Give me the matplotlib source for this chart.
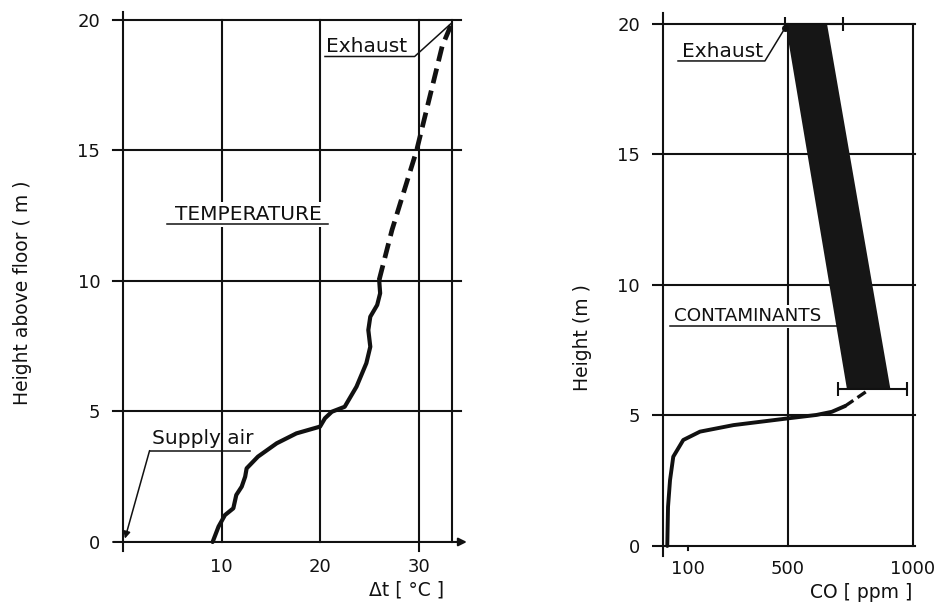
import matplotlib
matplotlib.use("Agg")
import matplotlib.pyplot as plt

# ---------------- data ----------------
# Temperature profile (solid, measured)
temp_delta = [9.1, 9.7, 10.35, 11.2, 11.5, 12.05, 12.4, 12.55, 13.7, 15.6, 17.6, 20.0,
              20.5, 21.2, 22.5, 23.7, 24.7, 25.1, 24.9, 25.1, 25.8, 26.1, 26.0]
temp_height = [0.0, 0.59, 1.03, 1.29, 1.8, 2.12, 2.5, 2.82, 3.27, 3.78, 4.16, 4.42,
               4.74, 4.99, 5.18, 5.95, 6.85, 7.48, 8.12, 8.63, 9.08, 9.53, 10.04]
# Temperature profile (dashed, extrapolated)
temp_dash_delta = [26.0, 27.3, 29.8, 32.4, 33.4]
temp_dash_height = [10.04, 11.95, 15.0, 19.0, 19.9]

# CO profile (solid)
co_ppm = [17, 20, 28, 41, 81, 148, 282, 502, 615, 676, 729]
co_height = [0.0, 1.5, 2.52, 3.42, 4.06, 4.38, 4.63, 4.89, 5.02, 5.14, 5.36]
# CO profile (dashed)
co_dash_ppm = [729, 749, 822]
co_dash_height = [5.36, 5.49, 5.97]

# Contaminant band
band_height = [6, 20]
band_low = [735, 489]
band_high = [909, 655]
# Range bars
err_height = [20, 6]
err_low = [489, 702]
err_high = [722, 978]

left_xticks = [10, 20, 30]
left_vlines = [0, 10, 20, 30, 33.4]
yticks = [0, 5, 10, 15, 20]
right_xticks = [100, 500, 1000]
right_vlines = [0, 500, 1000]

INK = "#111111"
plt.rcParams['font.family'] = ['DejaVu Sans']

fig = plt.figure(figsize=(9.4, 6.05), dpi=100)
fig.patch.set_facecolor("white")

# ---------------- left panel ----------------
axL = fig.add_axes([0.1151, 0.0826, 0.3826, 0.9103])
axL.set_xlim(-1.5, 35)
axL.set_ylim(-0.5, 20.6)
for s in axL.spines.values():
    s.set_visible(False)

for x in left_vlines:
    top = 20.3 if x == 0 else 20
    bot = -0.35 if x in (0, 30) else 0
    axL.plot([x, x], [bot, top], color=INK, lw=1.5, zorder=1)
for y in yticks[1:]:
    axL.plot([-1, 34.3], [y, y], color=INK, lw=1.5, zorder=1)
axL.annotate('', xy=(34.9, 0), xytext=(-1, 0),
             arrowprops=dict(arrowstyle='-|>', lw=1.5, color=INK,
                             mutation_scale=12, shrinkA=0, shrinkB=0), zorder=1)

axL.plot(temp_delta, temp_height, color=INK, lw=3.0, solid_capstyle='round',
         solid_joinstyle='round', zorder=4)
axL.plot(temp_dash_delta, temp_dash_height, color=INK, lw=3.4,
         dashes=(3.2, 1.6), zorder=4)

axL.set_xticks(left_xticks)
axL.set_xticklabels([str(t) for t in left_xticks])
axL.set_yticks(yticks)
axL.set_yticklabels([str(t) for t in yticks])
axL.tick_params(axis='both', length=0, labelsize=13, colors=INK)
axL.tick_params(axis='x', pad=2)
axL.tick_params(axis='y', pad=5.8)

axL.set_ylabel("Height above floor ( m )", fontsize=13.5, color=INK)
axL.yaxis.set_label_coords(-0.237, 0.476)
axL.yaxis.label.set_va('center')
axL.set_xlabel("Δt [ °C ]", fontsize=13.5, color=INK)
axL.xaxis.set_label_coords(0.831, -0.0635)
axL.xaxis.label.set_va('center')

# annotations left
axL.text(20.6, 18.78, "Exhaust", fontsize=14.5, color=INK, ha='left', va='baseline', zorder=5)
axL.plot([20.5, 29.6, 33.4], [18.6, 18.6, 19.9], color=INK, lw=1.1, zorder=5)

axL.text(5.3, 12.33, "TEMPERATURE", fontsize=14.5, color=INK, ha='left', va='baseline',
         zorder=5, bbox=dict(facecolor='white', edgecolor='none', pad=2))
axL.plot([4.5, 20.8], [12.2, 12.2], color=INK, lw=1.1, zorder=5)

axL.text(2.9, 3.77, "Supply air", fontsize=14.5, color=INK, ha='left', va='baseline', zorder=5)
axL.plot([12.9, 2.7], [3.5, 3.5], color=INK, lw=1.1, zorder=5)
axL.annotate('', xy=(0.2, 0.13), xytext=(2.7, 3.5),
             arrowprops=dict(arrowstyle='-|>', lw=1.1, color=INK, mutation_scale=10,
                             shrinkA=0, shrinkB=0), zorder=5)

# ---------------- right panel ----------------
axR = fig.add_axes([0.6934, 0.0760, 0.2909, 0.9104])
axR.set_xlim(-45, 1050)
axR.set_ylim(-0.5, 20.6)
for s in axR.spines.values():
    s.set_visible(False)

for x in right_vlines:
    top = 20.4 if x == 0 else 20
    bot = -0.37 if x == 0 else 0
    axR.plot([x, x], [bot, top], color=INK, lw=1.5, zorder=1)
for y in yticks:
    axR.plot([-40, 1010], [y, y], color=INK, lw=1.5, zorder=1)
axR.plot([100, 100], [0, -0.15], color=INK, lw=1.5, zorder=1)

axR.fill_betweenx(band_height, band_low, band_high, color="#161616", lw=0, zorder=3)
err_mid = [(a + b) / 2 for a, b in zip(err_low, err_high)]
err_half = [(b - a) / 2 for a, b in zip(err_low, err_high)]
axR.errorbar(err_mid, err_height, xerr=err_half, fmt='none', ecolor=INK,
             elinewidth=1.5, capsize=5, capthick=1.5, zorder=4)

axR.plot(co_ppm, co_height, color=INK, lw=2.8, solid_capstyle='round',
         solid_joinstyle='round', zorder=4)
axR.plot(co_dash_ppm, co_dash_height, color=INK, lw=2.4, dashes=(3, 1.5), zorder=4)

axR.set_xticks(right_xticks)
axR.set_xticklabels([str(t) for t in right_xticks])
axR.set_yticks(yticks)
axR.set_yticklabels([str(t) for t in yticks])
axR.tick_params(axis='both', length=0, labelsize=13, colors=INK)
axR.tick_params(axis='x', pad=0.5)
axR.tick_params(axis='y', pad=8.5)

axR.set_ylabel("Height (m )", fontsize=13.5, color=INK)
axR.yaxis.set_label_coords(-0.252, 0.402)
axR.yaxis.label.set_va('center')
axR.set_xlabel("CO [ ppm ]", fontsize=13.5, color=INK)
axR.xaxis.set_label_coords(0.765, -0.060)
axR.xaxis.label.set_va('center')

axR.text(75, 18.75, "Exhaust", fontsize=14.5, color=INK, ha='left', va='baseline', zorder=5)
axR.plot([60, 408, 489], [18.58, 18.58, 19.85], color=INK, lw=1.1, zorder=5)
axR.plot([489], [19.85], 'o', color=INK, ms=4, zorder=5)

axR.text(44, 8.6, "CONTAMINANTS", fontsize=13.2, color=INK, ha='left', va='baseline',
         zorder=5, bbox=dict(facecolor='white', edgecolor='none', pad=2))
axR.plot([28, 695], [8.43, 8.43], color=INK, lw=1.1, zorder=5)

fig.savefig("out.png", dpi=100, facecolor="white")
